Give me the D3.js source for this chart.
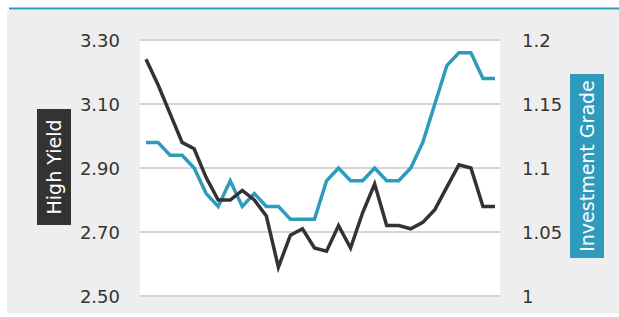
<!DOCTYPE html>
<html>
<head>
<meta charset="utf-8">
<script src="https://cdn.jsdelivr.net/npm/d3@7"></script>
<style>
  html, body { margin: 0; padding: 0; background: #fff; }
  svg { display: block; font-family: 'DejaVu Sans', sans-serif; }
</style>
</head>
<body>
<svg id="chart" width="619" height="317"></svg>
<script>
// one entry per period, left to right
const highYield = [3.24, 3.16, 3.07, 2.98, 2.96, 2.87, 2.80, 2.80, 2.83, 2.80,
  2.75, 2.59, 2.69, 2.71, 2.65, 2.64, 2.72, 2.65, 2.76, 2.85,
  2.72, 2.72, 2.71, 2.73, 2.77, 2.84, 2.91, 2.90, 2.78, 2.78];
const investmentGrade = [1.12, 1.12, 1.11, 1.11, 1.10, 1.08, 1.07, 1.09, 1.07, 1.08,
  1.07, 1.07, 1.06, 1.06, 1.06, 1.09, 1.10, 1.09, 1.09, 1.10,
  1.09, 1.09, 1.10, 1.12, 1.15, 1.18, 1.19, 1.19, 1.17, 1.17];
const leftTicks = [2.5, 2.7, 2.9, 3.1, 3.3];
const rightTicks = [1, 1.05, 1.1, 1.15, 1.2];
const leftLabel = 'High Yield';
const rightLabel = 'Investment Grade';

const svg = d3.select('#chart');
const plot = { left: 140, right: 500, top: 40, bottom: 296 };
const darkColour = '#333333';
const blueColour = '#2e9bbd';

// page frame
svg.append('rect')
  .attr('x', 7).attr('y', 10)
  .attr('width', 612).attr('height', 303)
  .attr('fill', '#eeeeee');
svg.append('line')
  .attr('x1', 9).attr('x2', 619)
  .attr('y1', 8.5).attr('y2', 8.5)
  .attr('stroke', blueColour)
  .attr('stroke-width', 2);

svg.append('rect')
  .attr('x', plot.left).attr('y', plot.top)
  .attr('width', plot.right - plot.left)
  .attr('height', plot.bottom - plot.top + 1)
  .attr('fill', '#ffffff');

const x = d3.scaleLinear()
  .domain([0, highYield.length - 1])
  .range([146, 495]);
const yLeft = d3.scaleLinear().domain([2.5, 3.3]).range([plot.bottom, plot.top]);
const yRight = d3.scaleLinear().domain([1, 1.2]).range([plot.bottom, plot.top]);

// gridlines
svg.append('g')
  .attr('class', 'grid')
  .selectAll('line')
  .data(leftTicks)
  .enter().append('line')
  .attr('x1', plot.left).attr('x2', plot.right)
  .attr('y1', d => yLeft(d)).attr('y2', d => yLeft(d))
  .attr('stroke', '#d6d6d6')
  .attr('stroke-width', 2);

const leftAxis = svg.append('g')
  .attr('transform', 'translate(120,0)')
  .call(d3.axisLeft(yLeft).tickValues(leftTicks).tickFormat(d3.format('.2f')).tickSize(0).tickPadding(0));
const rightAxis = svg.append('g')
  .attr('transform', 'translate(522,0)')
  .call(d3.axisRight(yRight).tickValues(rightTicks).tickFormat(d => String(+d.toFixed(2))).tickSize(0).tickPadding(0));

[leftAxis, rightAxis].forEach(function(axis) {
  axis.select('.domain').remove();
  axis.selectAll('text')
    .attr('dy', '0.36em')
    .attr('fill', darkColour)
    .style('font-size', '18px')
    .style('font-family', "'DejaVu Sans', sans-serif");
});

// series
const line = d3.line()
  .x((d, i) => x(i));

svg.append('path')
  .datum(investmentGrade)
  .attr('fill', 'none')
  .attr('stroke', blueColour)
  .attr('stroke-width', 3.5)
  .attr('d', line.y(d => yRight(d)));

svg.append('path')
  .datum(highYield)
  .attr('fill', 'none')
  .attr('stroke', darkColour)
  .attr('stroke-width', 3.5)
  .attr('d', line.y(d => yLeft(d)));

// rotated axis titles in coloured boxes
function axisTitle(text, box, fill) {
  const g = svg.append('g');
  g.append('rect')
    .attr('x', box.x).attr('y', box.y)
    .attr('width', box.w).attr('height', box.h)
    .attr('fill', fill);
  g.append('text')
    .attr('transform', `translate(${box.x + box.w / 2 + 7},${box.y + box.h / 2}) rotate(-90)`)
    .attr('text-anchor', 'middle')
    .attr('fill', '#ffffff')
    .style('font-size', '19px')
    .text(text);
}

axisTitle(leftLabel, { x: 37, y: 109, w: 34, h: 116 }, darkColour);
axisTitle(rightLabel, { x: 570, y: 74, w: 34, h: 184 }, blueColour);
</script>
</body>
</html>
